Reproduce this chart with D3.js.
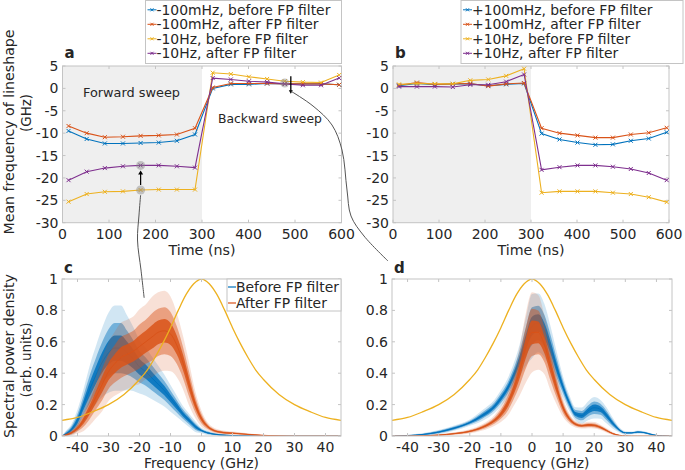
<!DOCTYPE html>
<html><head><meta charset="utf-8">
<script src="https://cdn.jsdelivr.net/npm/d3@7"></script>
<style>
body{margin:0;background:#fff}
svg{display:block}
</style></head><body>
<svg id="fig" width="685" height="470" font-family="DejaVu Sans"></svg>
<script>
// ---------- DATA ----------
const colors = ["#0072BD", "#D95319", "#EDB120", "#7E2F8E"];
const timeNs = [13, 52, 91, 130, 168, 207, 246, 285, 323, 362, 401, 440, 478, 517, 556, 595];

const aLabels = ["-100mHz, before FP filter", "-100mHz, after FP filter", "-10Hz, before FP filter", "-10Hz, after FP filter"];
const aBlue   = [-9.5, -11.3, -12.3, -12.3, -12.2, -12.1, -11.7, -10.3, 0.0, 0.9, 0.9, 1.1, 1.0, 1.0, 1.0, 0.8];
const aOrange = [-8.4, -10.0, -10.9, -10.8, -10.6, -10.5, -10.3, -8.9, 0.2, 1.1, 1.1, 1.1, 1.0, 1.0, 1.0, 0.8];
const aYellow = [-25.3, -23.6, -23.1, -23.0, -22.7, -22.6, -22.6, -22.6, 3.5, 3.2, 2.6, 2.1, 1.6, 1.4, 1.3, 3.0];
const aPurple = [-20.5, -18.6, -17.8, -17.4, -17.2, -17.2, -17.4, -17.7, 2.3, 2.0, 1.6, 1.4, 1.0, 0.7, 0.7, 2.3];

const bLabels = ["+100mHz, before FP filter", "+100mHz, after FP filter", "+10Hz, before FP filter", "+10Hz, after FP filter"];
const bBlue   = [0.6, 1.1, 0.8, 1.0, 1.0, 0.6, 0.9, 1.1, -10.1, -11.4, -12.1, -12.6, -12.5, -11.7, -11.2, -9.8];
const bOrange = [0.7, 1.3, 0.9, 1.0, 1.1, 0.5, 1.0, 1.2, -8.9, -10.0, -10.5, -11.0, -11.0, -10.3, -9.9, -8.8];
const bYellow = [0.9, 1.1, 1.0, 1.0, 1.8, 2.0, 2.8, 4.4, -23.3, -23.0, -23.0, -23.0, -23.3, -23.6, -24.3, -25.4];
const bPurple = [0.4, 0.4, 0.4, 0.3, 0.8, 0.8, 1.5, 3.1, -18.2, -17.6, -17.2, -17.2, -17.5, -18.0, -18.9, -20.5];

const timeTicks = [0, 100, 200, 300, 400, 500, 600];
const meanTicks = [5, 0, -5, -10, -15, -20, -25, -30];

// spectra, panel c
const cFreq = [-45,-44,-42,-40,-38,-36,-34,-32,-30,-28,-26,-24,-22,-20,-18,-16,-14,-12,-10,-8,-6,-4,-2,0,2,4,6,8,10,12,15,20,25,30,45];
const cBeforeMean = [0,0.01,0.04,0.1,0.2,0.3,0.39,0.47,0.53,0.56,0.56,0.53,0.49,0.44,0.41,0.37,0.33,0.29,0.24,0.19,0.14,0.1,0.06,0.035,0.02,0.012,0.007,0.005,0.003,0.002,0.001,0,0,0,0];
const cBeforeNoise = [0,0.01,0.02,0.04,0.06,0.09,0.11,0.13,0.15,0.16,0.16,0.14,0.12,0.1,0.09,0.08,0.07,0.06,0.05,0.04,0.03,0.025,0.02,0.01,0.008,0.005,0.004,0.003,0.002,0.002,0.001,0,0,0,0];
const cAfterMean = [0,0.005,0.02,0.05,0.1,0.17,0.25,0.33,0.41,0.46,0.5,0.52,0.54,0.57,0.6,0.63,0.66,0.67,0.65,0.58,0.47,0.33,0.2,0.11,0.06,0.035,0.025,0.02,0.018,0.015,0.01,0.004,0.001,0,0];
const cAfterNoise = [0,0.005,0.01,0.02,0.04,0.06,0.08,0.1,0.11,0.12,0.13,0.13,0.13,0.14,0.14,0.15,0.15,0.15,0.14,0.12,0.1,0.08,0.05,0.03,0.015,0.01,0.008,0.007,0.006,0.005,0.004,0.002,0.001,0,0];

// spectra, panel d
const dFreq = [-45,-40,-35,-30,-25,-20,-16,-12,-10,-8,-6,-4,-2,0,2,4,6,8,10,12,14,16,18,20,22,24,26,28,30,32,34,36,38,40,42,45];
const dBeforeMean = [0,0.003,0.01,0.025,0.05,0.085,0.13,0.19,0.24,0.3,0.38,0.48,0.6,0.7,0.72,0.67,0.56,0.43,0.31,0.21,0.14,0.13,0.16,0.18,0.17,0.13,0.08,0.04,0.02,0.02,0.025,0.022,0.012,0.004,0.001,0];
const dBeforeNoise = [0,0.002,0.005,0.008,0.01,0.012,0.02,0.025,0.03,0.035,0.045,0.06,0.09,0.12,0.11,0.1,0.08,0.06,0.04,0.03,0.025,0.03,0.035,0.04,0.035,0.03,0.02,0.01,0.006,0.005,0.006,0.005,0.004,0.002,0.001,0];
const dAfterMean = [0,0,0.002,0.006,0.015,0.03,0.055,0.1,0.14,0.2,0.29,0.41,0.56,0.66,0.66,0.58,0.44,0.3,0.18,0.11,0.075,0.065,0.07,0.068,0.055,0.035,0.015,0.005,0.001,0,0,0,0,0,0,0];
const dAfterNoise = [0,0,0.001,0.003,0.005,0.008,0.012,0.02,0.03,0.045,0.06,0.09,0.13,0.15,0.14,0.11,0.09,0.06,0.035,0.02,0.012,0.01,0.012,0.012,0.01,0.008,0.005,0.002,0.001,0,0,0,0,0,0,0];

// FP filter transmission
const fpFreq = [-45,-40,-35,-30,-25,-20,-17.5,-15,-12.5,-10,-7.5,-5,-2.5,0,2.5,5,7.5,10,12.5,15,17.5,20,25,30,35,40,45];
const fpTrans = [0.1,0.118,0.155,0.2,0.265,0.36,0.42,0.5,0.59,0.69,0.8,0.9,0.97,1.0,0.97,0.9,0.8,0.69,0.59,0.5,0.42,0.36,0.265,0.2,0.155,0.118,0.1];

const freqTicks = [-40,-30,-20,-10,0,10,20,30,40];
const psdTicks = [0, 0.2, 0.4, 0.6, 0.8, 1];
const specLabels = ["Before FP filter", "After FP filter"];

// ---------- DRAW ----------
const svg = d3.select("#fig");
const boxCol = "#c4c4c4";
const txtCol = "#262626";
const FS = 14;

function txt(g, x, y, s, size, anchor) {
  return g.append("text").attr("x", x).attr("y", y).attr("font-size", size || FS)
    .attr("font-family", "DejaVu Sans").attr("fill", txtCol).attr("text-anchor", anchor || "start").text(s);
}
function fit(sel, w) {
  const fs = +sel.attr("font-size");
  const m = sel.node().getComputedTextLength();
  if (m > 0) sel.attr("font-size", Math.max(11, Math.min(17, fs * w / m)).toFixed(2));
  return sel;
}

function axesFrame(g, x, y, xt, yt, xLabY) {
  const [x0, x1] = x.range(), [y1, y0] = y.range();
  xt.forEach(v => {
    g.append("line").attr("x1", x(v)).attr("x2", x(v)).attr("y1", y1).attr("y2", y1 - 3).attr("stroke", boxCol);
    g.append("line").attr("x1", x(v)).attr("x2", x(v)).attr("y1", y0).attr("y2", y0 + 3).attr("stroke", boxCol);
    txt(g, x(v), xLabY, String(v), FS, "middle");
  });
  yt.forEach(v => {
    g.append("line").attr("x1", x0).attr("x2", x0 + 3).attr("y1", y(v)).attr("y2", y(v)).attr("stroke", boxCol);
    g.append("line").attr("x1", x1).attr("x2", x1 - 3).attr("y1", y(v)).attr("y2", y(v)).attr("stroke", boxCol);
    txt(g, x0 - 4, y(v) + 5, String(v), FS, "end");
  });
  g.append("rect").attr("x", x0).attr("y", y0).attr("width", x1 - x0).attr("height", y1 - y0)
    .attr("fill", "none").attr("stroke", boxCol);
}

function xMark(g, cx, cy, col, s) {
  g.append("path").attr("d", `M${cx - s},${cy - s}L${cx + s},${cy + s}M${cx - s},${cy + s}L${cx + s},${cy - s}`)
    .attr("stroke", col).attr("stroke-width", 1).attr("fill", "none");
}

function timePanel(px0, px1, series, labels, letter, leg) {
  const x = d3.scaleLinear().domain([0, 600]).range([px0, px1]);
  const y = d3.scaleLinear().domain([-30, 5]).range([222.7, 66]);
  const g = svg.append("g");
  g.append("rect").attr("x", x(0)).attr("y", y(5)).attr("width", x(300) - x(0)).attr("height", y(-30) - y(5)).attr("fill", "#efefef");
  axesFrame(g, x, y, timeTicks, meanTicks, 239);
  const line = d3.line().x((d, i) => x(timeNs[i])).y(d => y(d));
  series.forEach((s, k) => {
    g.append("path").attr("d", line(s)).attr("fill", "none").attr("stroke", colors[k]).attr("stroke-width", 1.1);
    s.forEach((v, i) => xMark(g, x(timeNs[i]), y(v), colors[k], 2));
  });
  fit(txt(g, (px0 + px1) / 2, 255, "Time (ns)", FS, "middle"), 67);
  txt(g, px0 + 2, 58, letter, 15).attr("font-weight", "bold");
  const lg = svg.append("g");
  lg.append("rect").attr("x", leg.x).attr("y", 0.5).attr("width", leg.w).attr("height", 63).attr("fill", "#fff").attr("stroke", boxCol);
  labels.forEach((t, k) => {
    const yy = 9.8 + 14.5 * k;
    lg.append("line").attr("x1", leg.x + 2).attr("x2", leg.x + 11).attr("y1", yy).attr("y2", yy).attr("stroke", colors[k]);
    xMark(lg, leg.x + 6.5, yy, colors[k], 1.5);
    txt(lg, leg.x + 11, yy + 5, t, 13.9);
  });
  return { x, y, g };
}

const A = timePanel(62.5, 341.5, [aBlue, aOrange, aYellow, aPurple], aLabels, "a", { x: 145.5, w: 196 });
const B = timePanel(393, 669, [bBlue, bOrange, bYellow, bPurple], bLabels, "b", { x: 461, w: 222 });

fit(txt(A.g, 83, 97, "Forward sweep", 14), 97);
fit(txt(A.g, 218, 123, "Backward sweep", 14), 104);

function ylab(x, y, s, w) {
  const t = svg.append("text").attr("transform", `translate(${x},${y}) rotate(-90)`).attr("text-anchor", "middle")
    .attr("font-size", FS).attr("font-family", "DejaVu Sans").attr("fill", txtCol).text(s);
  fit(t, w);
}
ylab(14, 132, "Mean frequency of lineshape", 205);
ylab(31, 113, "(GHz)", 38);
ylab(14, 356, "Spectral power density", 164);
ylab(31, 360, "(arb. units)", 75);

function specPanel(px0, px1, freq, sets, letter, withLegend) {
  const x = d3.scaleLinear().domain([-45, 45]).range([px0, px1]);
  const y = d3.scaleLinear().domain([0, 1]).range([436, 279]);
  const g = svg.append("g");
  const clipId = "clip" + letter;
  g.append("clipPath").attr("id", clipId).append("rect").attr("x", px0).attr("y", 279).attr("width", px1 - px0).attr("height", 157);
  const pg = g.append("g").attr("clip-path", `url(#${clipId})`);
  sets.forEach((s, k) => {
    const band = f => d3.area().x((d, i) => x(freq[i]))
      .y0((d, i) => y(Math.max(0, s.mean[i] - f * s.noise[i])))
      .y1((d, i) => y(s.mean[i] + f * s.noise[i])).curve(d3.curveMonotoneX);
    pg.append("path").attr("d", band(1.7)(s.mean)).attr("fill", colors[k]).attr("fill-opacity", 0.18);
    pg.append("path").attr("d", band(1.0)(s.mean)).attr("fill", colors[k]).attr("fill-opacity", 0.45);
    pg.append("path").attr("d", band(0.5)(s.mean)).attr("fill", colors[k]).attr("fill-opacity", 0.85);
    const line = d3.line().x((d, i) => x(freq[i])).y(d => y(d)).curve(d3.curveMonotoneX);
    pg.append("path").attr("d", line(s.mean)).attr("fill", "none").attr("stroke", colors[k]).attr("stroke-width", 1);
  });
  const fl = d3.line().x((d, i) => x(fpFreq[i])).y(d => y(d)).curve(d3.curveMonotoneX);
  pg.append("path").attr("d", fl(fpTrans)).attr("fill", "none").attr("stroke", colors[2]).attr("stroke-width", 1.3);
  axesFrame(g, x, y, freqTicks, psdTicks, 452);
  fit(txt(g, (px0 + px1) / 2, 468, "Frequency (GHz)", FS, "middle"), 115);
  txt(g, px0 + 2, 273, letter, 15).attr("font-weight", "bold");
  if (withLegend) {
    g.append("rect").attr("x", 227).attr("y", 279).attr("width", 114).attr("height", 32).attr("fill", "#fff").attr("stroke", boxCol);
    specLabels.forEach((t, k) => {
      const yy = 287 + 16 * k;
      g.append("line").attr("x1", 228).attr("x2", 236).attr("y1", yy).attr("y2", yy).attr("stroke", colors[k]).attr("stroke-width", 1.2);
      txt(g, 236, yy + 5, t, 13.9);
    });
  }
  return { x, y, g };
}

const C = specPanel(62, 341, cFreq, [{ mean: cBeforeMean, noise: cBeforeNoise }, { mean: cAfterMean, noise: cAfterNoise }], "c", true);
const D = specPanel(392, 672, dFreq, [{ mean: dBeforeMean, noise: dBeforeNoise }, { mean: dAfterMean, noise: dAfterNoise }], "d", false);

// ---------- annotations ----------
const ann = svg.append("g");
const pU = [A.x(timeNs[4]), A.y(aPurple[4])], pL = [A.x(timeNs[4]), A.y(aYellow[4])];
const pB = [A.x(timeNs[12]), A.y(aOrange[12] + 0.2)];
[pU, pL, pB].forEach(p => ann.append("circle").attr("cx", p[0]).attr("cy", p[1]).attr("r", 4.5).attr("fill", "#888").attr("fill-opacity", 0.45));
ann.append("line").attr("x1", pL[0]).attr("x2", pL[0]).attr("y1", pL[1] - 5).attr("y2", pU[1] + 7).attr("stroke", "#000").attr("stroke-width", 1.2);
ann.append("path").attr("d", `M${pU[0] - 2.5},${pU[1] + 9}L${pU[0]},${pU[1] + 5}L${pU[0] + 2.5},${pU[1] + 9}Z`).attr("fill", "#000");
const ax2 = A.x(491);
ann.append("line").attr("x1", ax2).attr("x2", ax2).attr("y1", A.y(2.7)).attr("y2", A.y(-0.8)).attr("stroke", "#000").attr("stroke-width", 1.3);
ann.append("path").attr("d", `M${ax2 - 2},${A.y(-0.4)}L${ax2},${A.y(-1.2)}L${ax2 + 2},${A.y(-0.4)}Z`).attr("fill", "#000");
const cl = d3.line().curve(d3.curveCatmullRom);
ann.append("path").attr("d", cl([[pL[0], pL[1] + 5], [139, 215], [137.5, 240], [141, 270], [C.x(-18.5), C.y(0.88)]]))
  .attr("fill", "none").attr("stroke", "#555").attr("stroke-width", 1);
ann.append("path").attr("d", cl([[ax2, A.y(-0.6)], [313, 106], [332, 125], [342, 150], [347, 190], [351, 216], [364, 236], [388, 261]]))
  .attr("fill", "none").attr("stroke", "#555").attr("stroke-width", 1);
</script></body></html>
